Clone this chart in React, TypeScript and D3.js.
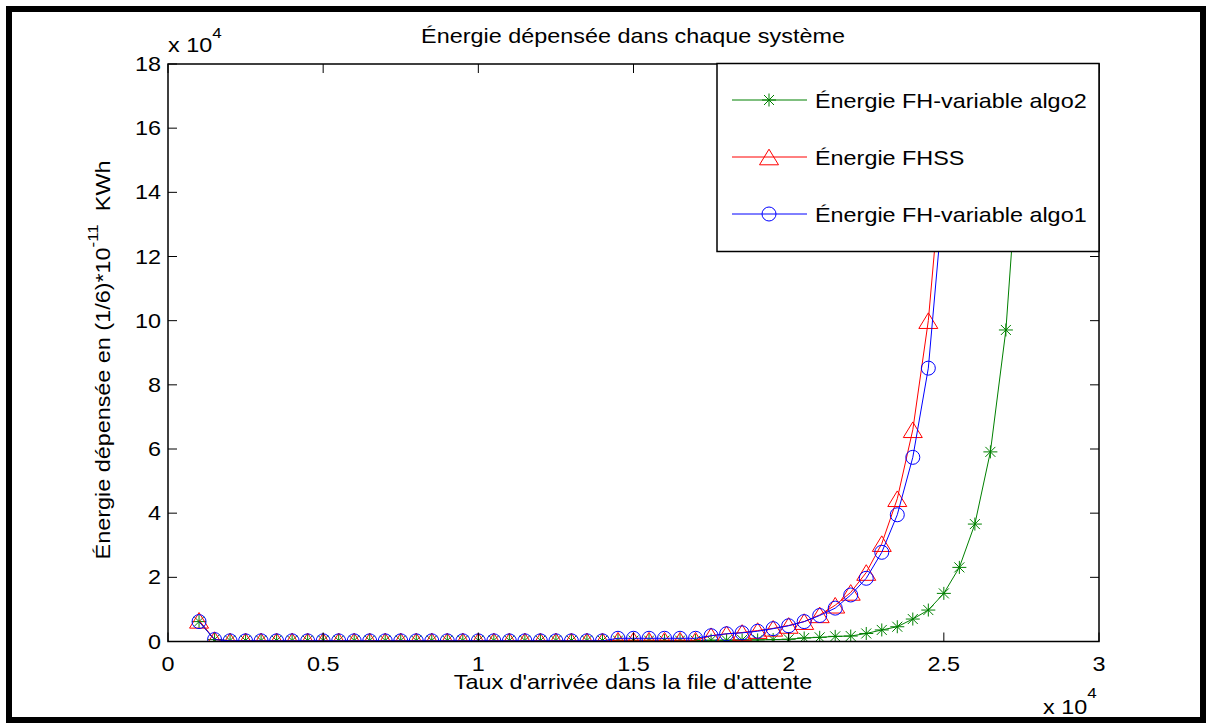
import React from 'react';
import * as d3 from 'd3';

// taux d'arrivée, one value per plotted point
const arrivalRates = [
  1000, 1500, 2000, 2500, 3000, 3500, 4000, 4500, 5000, 5500,
  6000, 6500, 7000, 7500, 8000, 8500, 9000, 9500, 10000, 10500,
  11000, 11500, 12000, 12500, 13000, 13500, 14000, 14500, 15000, 15500,
  16000, 16500, 17000, 17500, 18000, 18500, 19000, 19500, 20000, 20500,
  21000, 21500, 22000, 22500, 23000, 23500, 24000, 24500, 25000, 25500,
  26000, 26500, 27000, 27500,
];

// energies, in units of 10^4 (as on the axis)
const energyAlgo2 = [
  0.62, 0.06, 0.03, 0.03, 0.03, 0.03, 0.03, 0.03, 0.03, 0.03,
  0.03, 0.03, 0.03, 0.03, 0.03, 0.03, 0.03, 0.03, 0.03, 0.03,
  0.03, 0.03, 0.03, 0.03, 0.03, 0.03, 0.03, 0.03, 0.03, 0.03,
  0.03, 0.03, 0.03, 0.04, 0.04, 0.05, 0.05, 0.06, 0.07, 0.11,
  0.13, 0.16, 0.17, 0.25, 0.36, 0.46, 0.70, 0.98, 1.50, 2.31,
  3.66, 5.91, 9.71, 16.5,
];
const energyFHSS = [
  0.66, 0.06, 0.02, 0.02, 0.02, 0.02, 0.02, 0.02, 0.02, 0.02,
  0.02, 0.02, 0.02, 0.02, 0.02, 0.02, 0.02, 0.02, 0.02, 0.02,
  0.02, 0.02, 0.02, 0.02, 0.02, 0.02, 0.02, 0.04, 0.04, 0.04,
  0.04, 0.04, 0.04, 0.18, 0.24, 0.28, 0.34, 0.41, 0.50, 0.62,
  0.83, 1.13, 1.53, 2.15, 3.05, 4.45, 6.60, 10.0, 15.5,
];
const energyAlgo1 = [
  0.62, 0.06, 0.02, 0.02, 0.02, 0.02, 0.02, 0.02, 0.02, 0.02,
  0.02, 0.02, 0.02, 0.02, 0.02, 0.02, 0.02, 0.02, 0.02, 0.02,
  0.02, 0.02, 0.02, 0.02, 0.02, 0.02, 0.02, 0.10, 0.10, 0.10,
  0.10, 0.10, 0.10, 0.18, 0.24, 0.27, 0.32, 0.40, 0.49, 0.62,
  0.81, 1.04, 1.45, 1.97, 2.78, 3.95, 5.74, 8.52, 14.0,
];

const xTicks = [0, 5000, 10000, 15000, 20000, 25000, 30000];
const xTickLabels = ['0', '0.5', '1', '1.5', '2', '2.5', '3'];
const yTicks = [0, 2, 4, 6, 8, 10, 12, 14, 16, 18];

const seriesNames = ['Énergie FH-variable algo2', 'Énergie FHSS', 'Énergie FH-variable algo1'];
const seriesColors = ['#008000', '#ff0000', '#0000ff'];
const seriesMarkers = ['star', 'triangle', 'circle'];
const seriesValues = [energyAlgo2, energyFHSS, energyAlgo1];

const W = 1208;
const H = 723;
const plot = { left: 168, right: 1099, top: 64, bottom: 641.5 };
const SX = 1.17; // the original font is wider than Liberation Sans
const FONT = '"Liberation Sans", Arial, sans-serif';

const x = d3.scaleLinear().domain([0, 30000]).range([plot.left, plot.right]);
const y = d3.scaleLinear().domain([0, 18]).range([plot.bottom, plot.top]);

function Marker({ kind, cx, cy, color }: { kind: string; cx: number; cy: number; color: string }) {
  if (kind === 'circle') {
    return <circle cx={cx} cy={cy} r={7} fill="none" stroke={color} strokeWidth={1} />;
  }
  if (kind === 'triangle') {
    return (
      <path
        d={`M${cx},${cy - 7.8}L${cx + 9.5},${cy + 7.8}L${cx - 9.5},${cy + 7.8}Z`}
        fill="none"
        stroke={color}
        strokeWidth={1}
      />
    );
  }
  return (
    <path
      d={`M${cx - 7},${cy}H${cx + 7}M${cx},${cy - 6.5}V${cy + 6.5}M${cx - 5},${cy - 5}L${cx + 5},${cy + 5}M${cx - 5},${cy + 5}L${cx + 5},${cy - 5}`}
      stroke={color}
      strokeWidth={1}
    />
  );
}

function Label({ tx, ty, anchor = 'start', size = 20, rotate = 0, children }: any) {
  return (
    <text
      transform={`translate(${tx},${ty}) rotate(${rotate}) scale(${SX},1)`}
      textAnchor={anchor}
      fontSize={size}
      fontFamily={FONT}
      fill="#000"
      style={{ whiteSpace: 'pre' }}
    >
      {children}
    </text>
  );
}

export default function App() {
  const line = d3
    .line<number>()
    .x((_, i) => x(arrivalRates[i]))
    .y((d) => y(d));

  const legend = { left: 717, top: 63.5, right: 1099, bottom: 251.5 };
  const legendRows = [100, 157, 214];

  return (
    <svg
      width={W}
      height={H}
      style={{ position: 'absolute', left: 0, top: 0, background: '#fff' }}
    >
      <defs>
        <clipPath id="plotClip">
          <rect x={plot.left} y={plot.top} width={plot.right - plot.left} height={plot.bottom - plot.top} />
        </clipPath>
      </defs>

      {/* outer frame */}
      <rect x={9} y={9} width={1194} height={711} fill="none" stroke="#000" strokeWidth={6} />

      {/* series */}
      <g clipPath="url(#plotClip)">
        {seriesValues.map((vals, s) => (
          <g key={s}>
            <path d={line(vals) || ''} fill="none" stroke={seriesColors[s]} strokeWidth={1} />
            {vals.map((v, i) => (
              <Marker key={i} kind={seriesMarkers[s]} cx={x(arrivalRates[i])} cy={y(v)} color={seriesColors[s]} />
            ))}
          </g>
        ))}
      </g>

      {/* axes box */}
      <rect
        x={plot.left}
        y={plot.top}
        width={plot.right - plot.left}
        height={plot.bottom - plot.top}
        fill="none"
        stroke="#000"
        strokeWidth={1.5}
      />

      {/* ticks */}
      {xTicks.map((t, i) => (
        <g key={'x' + i}>
          <line x1={x(t)} x2={x(t)} y1={plot.bottom} y2={plot.bottom - 9} stroke="#000" />
          <line x1={x(t)} x2={x(t)} y1={plot.top} y2={plot.top + 9} stroke="#000" />
          <Label tx={x(t)} ty={671} anchor="middle">{xTickLabels[i]}</Label>
        </g>
      ))}
      {yTicks.map((t) => (
        <g key={'y' + t}>
          <line x1={plot.left} x2={plot.left + 9} y1={y(t)} y2={y(t)} stroke="#000" />
          <line x1={plot.right} x2={plot.right - 9} y1={y(t)} y2={y(t)} stroke="#000" />
          <Label tx={161} ty={y(t) + 7} anchor="end">{t}</Label>
        </g>
      ))}

      {/* exponent labels */}
      <Label tx={168} ty={52}>
        x 10<tspan dy={-14} fontSize={14.5}>4</tspan>
      </Label>
      <Label tx={1043} ty={714}>
        x 10<tspan dy={-16} fontSize={14.5}>4</tspan>
      </Label>

      {/* titles */}
      <Label tx={633} ty={43} anchor="middle">Énergie dépensée dans chaque système</Label>
      <Label tx={633} ty={689} anchor="middle">Taux d'arrivée dans la file d'attente</Label>
      <Label tx={110} ty={360} anchor="middle" rotate={-90}>
        Énergie dépensée en (1/6)*10<tspan dy={-12} fontSize={14.5}>-11</tspan>
        <tspan dy={12}>  KWh</tspan>
      </Label>

      {/* legend */}
      <rect
        x={legend.left}
        y={legend.top}
        width={legend.right - legend.left}
        height={legend.bottom - legend.top}
        fill="#fff"
        stroke="#000"
        strokeWidth={1.5}
      />
      {seriesNames.map((name, s) => (
        <g key={name}>
          <line x1={732} x2={807} y1={legendRows[s]} y2={legendRows[s]} stroke={seriesColors[s]} strokeWidth={1} />
          <Marker kind={seriesMarkers[s]} cx={769} cy={legendRows[s]} color={seriesColors[s]} />
          <Label tx={815} ty={legendRows[s] + 7.5}>{name}</Label>
        </g>
      ))}
    </svg>
  );
}
